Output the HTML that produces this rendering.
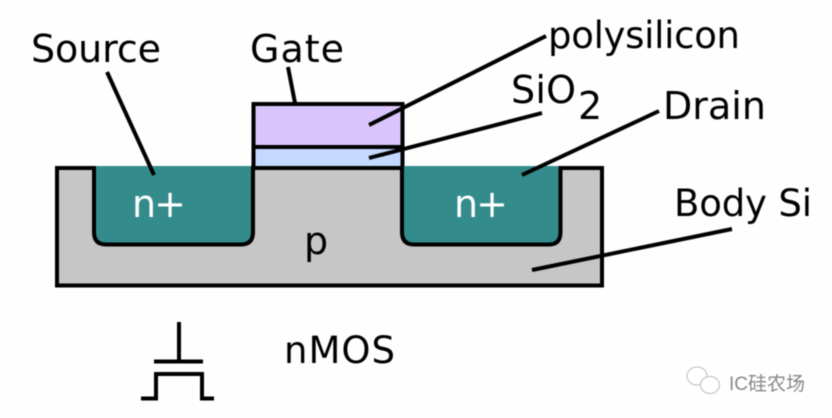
<!DOCTYPE html>
<html><head><meta charset="utf-8"><style>
html,body{margin:0;padding:0;background:#fff;width:832px;height:418px;overflow:hidden}
svg{display:block;filter:blur(.55px)}
text{font-family:"DejaVu Sans","Liberation Sans",sans-serif;font-size:38px;fill:#000}
</style></head><body>
<svg width="832" height="418" viewBox="0 0 832 418" xmlns="http://www.w3.org/2000/svg">
<rect width="832" height="418" fill="#fefefe"/>
<rect x="57" y="168" width="545" height="117.500" fill="#c6c6c6" stroke="#000" stroke-width="4"/>
<rect x="253.500" y="104" width="149" height="43" fill="#d9c5fb" stroke="#000" stroke-width="4"/>
<rect x="253.500" y="147" width="149" height="21" fill="#c3d9ff" stroke="#000" stroke-width="4"/>
<path d="M94 166V232Q94 244.500 106 244.500H241Q253 244.500 253 232V166Z" fill="#348b8b"/>
<path d="M94 166V232Q94 244.500 106 244.500H241Q253 244.500 253 232V166" fill="none" stroke="#000" stroke-width="4"/>
<path d="M402 166V232Q402 244.500 414 244.500H549Q560.500 244.500 560.500 232V166Z" fill="#348b8b"/>
<path d="M402 166V232Q402 244.500 414 244.500H549Q560.500 244.500 560.500 232V166" fill="none" stroke="#000" stroke-width="4"/>
<g stroke="#000" stroke-width="4" fill="none">
<path d="M107 72L154 175"/>
<path d="M288 67L295 103"/>
<path d="M546 36L369 125"/>
<path d="M542 113L369 158"/>
<path d="M659 111L522 175"/>
<path d="M732 229L532 270"/>
<path d="M179 322V361"/>
<path d="M154 361.500H203"/>
<path d="M141 398.500H156V374H202V398.500H214"/>
</g>
<text x="31" y="62" textLength="130">Source</text>
<text x="250" y="62" textLength="94">Gate</text>
<text x="548" y="48" style="font-size:37px" textLength="192">polysilicon</text>
<text x="511" y="103" textLength="65">SiO</text>
<text x="578" y="119">2</text>
<text x="663" y="119" textLength="103">Drain</text>
<text x="674" y="216" style="font-size:37px" textLength="138">Body Si</text>
<text x="132" y="217" style="fill:#fff" textLength="54">n+</text>
<text x="454" y="217" style="fill:#fff" textLength="54">n+</text>
<text x="304" y="254">p</text>
<text x="284" y="363" style="font-size:37px" textLength="111">nMOS</text>
<g fill="#fff" stroke="#bbb" stroke-width="1">
<ellipse cx="697" cy="376" rx="10" ry="9"/>
<ellipse cx="710" cy="385" rx="9.500" ry="8.500"/>
</g>
<text x="729" y="390" style="font-family:'Liberation Sans','Noto Sans CJK SC',sans-serif;font-size:19px;fill:#888" textLength="76">IC硅农场</text>
</svg>
</body></html>
